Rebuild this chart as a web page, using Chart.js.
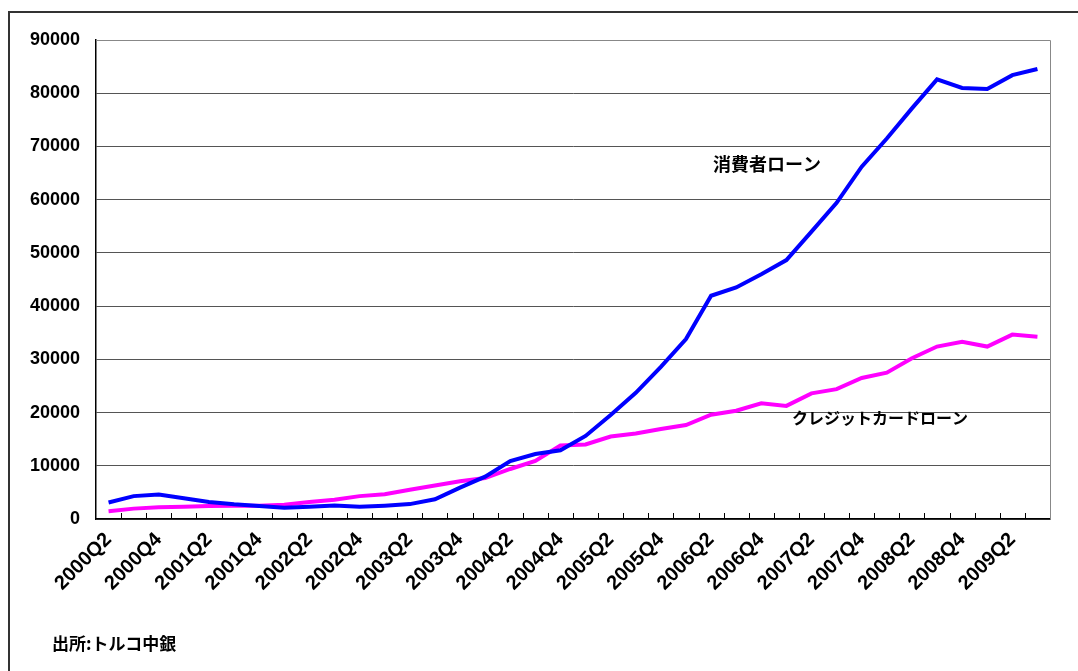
<!DOCTYPE html>
<html>
<head>
<meta charset="utf-8">
<script src="https://cdn.jsdelivr.net/npm/chart.js@4"></script>
<style>
    body { margin: 0; background: #fff; overflow: hidden; }
    #wrap { position: relative; width: 1078px; height: 671px; }
    #frame { position: absolute; left: 8px; top: 11px; width: 1080px; height: 680px; border-left: 2px solid #333; border-top: 2px solid #333; }
    #source { position: absolute; left: 52px; top: 630px; font: bold 17px "Noto Sans CJK JP", sans-serif; color: #000; }
    canvas { position: absolute; left: 0; top: 0; }
</style>
</head>
<body>
<div id="wrap">
    <div id="frame"></div>
    <canvas id="loanChart" width="1078" height="671"></canvas>
    <div id="source">出所:トルコ中銀</div>
</div>
<script>
const quarters = [
    "2000Q2", "2000Q3", "2000Q4", "2001Q1", "2001Q2", "2001Q3", "2001Q4", "2002Q1",
    "2002Q2", "2002Q3", "2002Q4", "2003Q1", "2003Q2", "2003Q3", "2003Q4", "2004Q1",
    "2004Q2", "2004Q3", "2004Q4", "2005Q1", "2005Q2", "2005Q3", "2005Q4", "2006Q1",
    "2006Q2", "2006Q3", "2006Q4", "2007Q1", "2007Q2", "2007Q3", "2007Q4", "2008Q1",
    "2008Q2", "2008Q3", "2008Q4", "2009Q1", "2009Q2", "2009Q3"
];

// 消費者ローン
const consumerLoans = [
    3100, 4300, 4600, 3900, 3200, 2750, 2450, 2100, 2300, 2550,
    2300, 2500, 2800, 3700, 5900, 7950, 10900, 12200, 12900, 15600,
    19550, 23700, 28600, 33800, 41950, 43500, 46000, 48650, 54000, 59400,
    66200, 71500, 77150, 82600, 81000, 80800, 83400, 84550
];

// クレジットカードローン
const creditCardLoans = [
    1450, 1950, 2200, 2300, 2450, 2500, 2500, 2700, 3200, 3600,
    4300, 4650, 5500, 6300, 7100, 7700, 9400, 10900, 13800, 14000,
    15500, 16050, 16900, 17650, 19600, 20350, 21750, 21250, 23600, 24400,
    26500, 27500, 30200, 32400, 33300, 32400, 34650, 34250
];

const yTicks = [0, 10000, 20000, 30000, 40000, 50000, 60000, 70000, 80000, 90000];

const seriesLabels = [
    { text: "消費者ローン", x: 713, y: 164, size: 18 },
    { text: "クレジットカードローン", x: 792, y: 418, size: 16 }
];

// frame on top/right of plot, small inward ticks on x axis, series names
const decorPlugin = {
    id: "decor",
    afterDraw(chart) {
        const ctx = chart.ctx;
        const area = chart.chartArea;
        const xs = chart.scales.x;
        ctx.save();
        ctx.strokeStyle = "#888";
        ctx.lineWidth = 1;
        ctx.beginPath();
        ctx.moveTo(area.left, area.top + 0.5);
        ctx.lineTo(area.right + 0.5, area.top + 0.5);
        ctx.lineTo(area.right + 0.5, area.bottom);
        ctx.stroke();

        ctx.strokeStyle = "#000";
        ctx.beginPath();
        for (let i = 1; i < quarters.length; i++) {
            const px = Math.round((xs.getPixelForValue(i - 1) + xs.getPixelForValue(i)) / 2) + 0.5;
            ctx.moveTo(px, area.bottom);
            ctx.lineTo(px, area.bottom - 6);
        }
        ctx.stroke();

        ctx.fillStyle = "#000";
        ctx.textBaseline = "middle";
        seriesLabels.forEach(l => {
            ctx.font = "bold " + l.size + "px 'Noto Sans CJK JP', sans-serif";
            ctx.fillText(l.text, l.x, l.y);
        });
        ctx.restore();
    }
};

new Chart(document.getElementById("loanChart").getContext("2d"), {
    type: "line",
    data: {
        labels: quarters,
        datasets: [
            {
                label: "消費者ローン",
                data: consumerLoans,
                borderColor: "#0000ff",
                borderWidth: 4,
                pointRadius: 0,
                tension: 0,
                fill: false
            },
            {
                label: "クレジットカードローン",
                data: creditCardLoans,
                borderColor: "#ff00ff",
                borderWidth: 4,
                pointRadius: 0,
                tension: 0,
                fill: false
            }
        ]
    },
    options: {
        responsive: false,
        animation: false,
        layout: { padding: { left: 10, top: 40, right: 28, bottom: 0 } },
        plugins: {
            legend: { display: false },
            tooltip: { enabled: false }
        },
        scales: {
            x: {
                offset: true,
                grid: { display: false, drawTicks: false },
                border: { display: true, color: "#000", width: 1.5 },
                ticks: {
                    autoSkip: false,
                    maxRotation: 45,
                    minRotation: 45,
                    padding: 9,
                    color: "#000",
                    font: { family: "'Liberation Sans', Arial, sans-serif", size: 20, weight: "bold" },
                    callback: (v, i) => (i % 2 === 0 ? quarters[i] : "")
                },
                afterFit: s => { s.height = 152; }
            },
            y: {
                min: 0,
                max: 90000,
                afterBuildTicks: s => { s.ticks = yTicks.map(v => ({ value: v })); },
                grid: { color: "#555", lineWidth: 1, drawTicks: false },
                border: { display: true, color: "#000", width: 1.5 },
                ticks: {
                    padding: 16,
                    color: "#000",
                    font: { family: "'Liberation Sans', Arial, sans-serif", size: 18, weight: "bold" },
                    callback: v => String(v)
                },
                afterFit: s => { s.width = 86; }
            }
        }
    },
    plugins: [decorPlugin]
});
</script>
</body>
</html>
